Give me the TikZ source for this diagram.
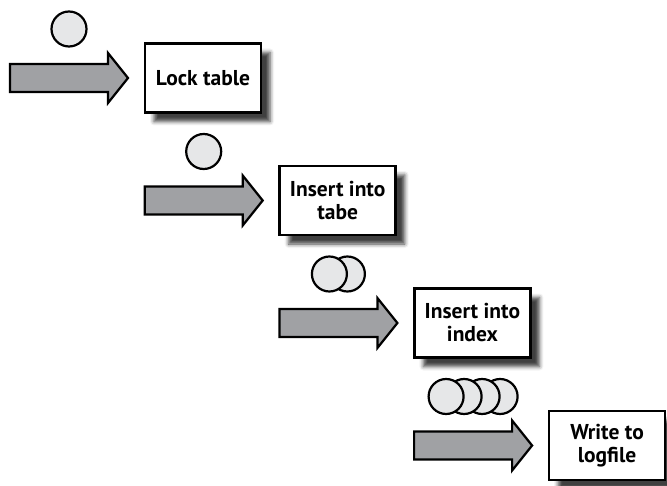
\documentclass[tikz,border=0pt]{standalone}
\usepackage{fontspec}
\setsansfont{PT Sans}
\usetikzlibrary{shadows.blur}
\definecolor{arrowgray}{RGB}{160,161,164}
\definecolor{coingray}{RGB}{230,231,232}
\tikzset{
  arrowbody/.style={draw=black, line width=2.2pt, line join=miter, fill=arrowgray},
  coin/.style={draw=black, line width=2.2pt, fill=coingray},
  stepbox/.style={draw=black, line width=2.6pt, fill=white, minimum width=116pt,
    minimum height=69pt, align=center, inner sep=2pt,
    blur shadow={shadow xshift=9pt, shadow yshift=-9pt, shadow blur radius=4pt, shadow opacity=75}}
}

\begin{document}
\begin{tikzpicture}[x=1pt, y=-1pt, font=\sffamily\bfseries\fontsize{21.5}{23}\selectfont]
	\useasboundingbox (0,0) rectangle (667,486);
	\def\dx{134.7}  % shift of one step in x
	\def\dy{122.5}  % shift of one step in y
	\foreach \n/\txt/\k in {0/{Lock table}/1, 1/{Insert into\\tabe}/1, 2/{Insert into\\index}/2, 3/{Write to\\logfile}/4} {
		\pgfmathsetmacro{\x}{10+\n*\dx}
		\pgfmathsetmacro{\y}{78+\n*\dy}
		% block arrow
		\draw[arrowbody] (\x,\y-14) -- ++(98,0) -- ++(0,-11) -- ++(20,25)
			-- ++(-20,25) -- ++(0,-11) -- ++(-98,0) -- cycle;
		% coins, the left one on top
		\foreach \i in {\k,...,1} {
			\pgfmathsetmacro{\cx}{\x+59-(\k-1)*9+(\i-1)*18}
			\draw[coin] (\cx,\y-49) circle[radius=17.5pt];
		}
		\node[stepbox] (box\n) at (\x+193,\y) {\txt};
	}
\end{tikzpicture}
\end{document}
